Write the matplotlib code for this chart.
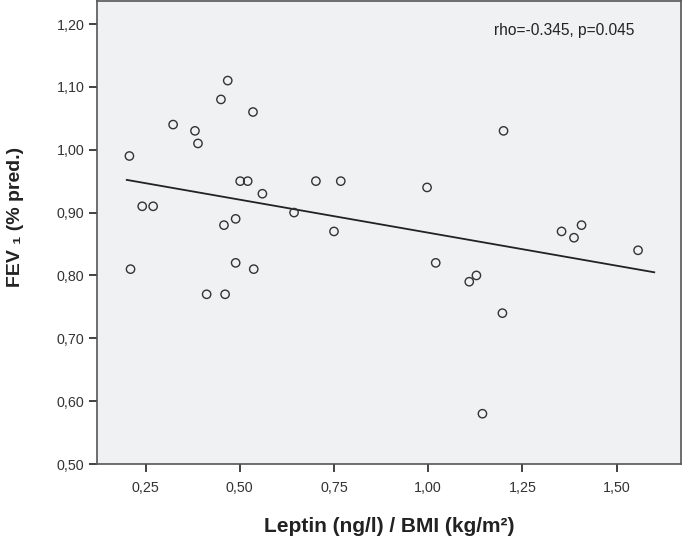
import matplotlib
matplotlib.use("Agg")
import matplotlib.pyplot as plt
from matplotlib.ticker import FuncFormatter, FixedLocator

# Data
leptin_bmi = [0.468, 0.450, 0.535, 0.323, 0.381, 0.389, 0.207, 0.501, 0.521, 0.560,
              0.241, 0.270, 0.644, 0.489, 0.458, 0.210, 0.489, 0.537, 0.412, 0.461,
              1.200, 0.997, 1.354, 1.407, 1.387, 1.557, 1.020, 1.109, 1.128, 1.197,
              1.144, 0.702, 0.768, 0.750]
fev1 = [1.11, 1.08, 1.06, 1.04, 1.03, 1.01, 0.99, 0.95, 0.95, 0.93,
        0.91, 0.91, 0.90, 0.89, 0.88, 0.81, 0.82, 0.81, 0.77, 0.77,
        1.03, 0.94, 0.87, 0.88, 0.86, 0.84, 0.82, 0.79, 0.80, 0.74,
        0.58, 0.95, 0.95, 0.87]
fit_x = [0.20, 1.60]
fit_y = [0.952, 0.805]
x_ticks = [0.25, 0.50, 0.75, 1.00, 1.25, 1.50]
y_ticks = [0.50, 0.60, 0.70, 0.80, 0.90, 1.00, 1.10, 1.20]
annotation = "rho=-0.345, p=0.045"

plt.rcParams['font.family'] = ['Liberation Sans', 'DejaVu Sans']

fig = plt.figure(figsize=(6.85, 5.57), dpi=100)
ax = fig.add_axes([97/685, (557-464)/557, (681-97)/685, (464-1)/557])
ax.set_facecolor('#f0f1f3')

ax.plot(fit_x, fit_y, color='#222222', lw=1.3, zorder=2)
ax.scatter(leptin_bmi, fev1, s=36, facecolors='none', edgecolors='#333333',
           linewidths=1.0, zorder=3)

ax.set_xlim(0.121, 1.671)
ax.set_ylim(0.50, 1.2366)
ax.xaxis.set_major_locator(FixedLocator(x_ticks))
ax.yaxis.set_major_locator(FixedLocator(y_ticks))
fmt = FuncFormatter(lambda v, p: f"{v:.2f}".replace('.', ','))
ax.xaxis.set_major_formatter(fmt)
ax.yaxis.set_major_formatter(fmt)

for s in ax.spines.values():
    s.set_color('#555555')
    s.set_linewidth(1.2)
ax.tick_params(direction='out', length=6, width=1.3, color='#333333',
               labelsize=10.3, labelcolor='#333333', pad=3)
ax.tick_params(axis='x', pad=6)

ax.set_xlabel("Leptin (ng/l) / BMI (kg/m²)", fontsize=15, fontweight='bold',
              color='#222222', labelpad=16)
ax.set_ylabel("FEV ₁ (% pred.)", fontsize=14, fontweight='bold',
              color='#222222')
ax.yaxis.set_label_coords(-0.125, 0.533)

ax.text(0.9195, 0.937, annotation, transform=ax.transAxes, ha='right', va='center',
        fontsize=11.2, color='#222222')

fig.savefig("out.png", dpi=100)
